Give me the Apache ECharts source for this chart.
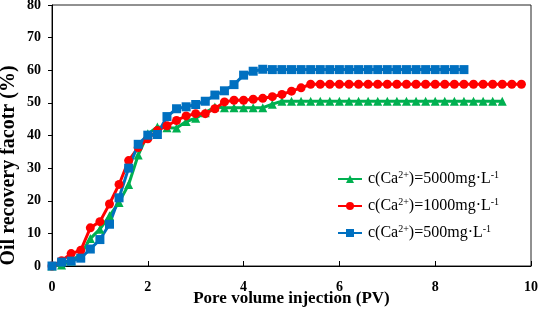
<!DOCTYPE html>
<html>
<head>
<meta charset="utf-8">
<script src="https://cdn.jsdelivr.net/npm/echarts@6/dist/echarts.min.js"></script>
<style>
html,body{margin:0;padding:0;background:#fff;}
#chart{width:538px;height:309px;}
</style>
</head>
<body>
<div id="chart"></div>
<script>
// 注入孔隙体积 (PV)
var pv = [0, 0.2, 0.4, 0.6, 0.8, 1.0, 1.2, 1.4, 1.6, 1.8,
	2.0, 2.2, 2.4, 2.6, 2.8, 3.0, 3.2, 3.4, 3.6, 3.8,
	4.0, 4.2, 4.4, 4.6, 4.8, 5.0, 5.2, 5.4, 5.6, 5.8,
	6.0, 6.2, 6.4, 6.6, 6.8, 7.0, 7.2, 7.4, 7.6, 7.8,
	8.0, 8.2, 8.4, 8.6, 8.8, 9.0, 9.2, 9.4, 9.6, 9.8];

// 5000 mg/L
var rec5000 = [0, 0.3, 1.5, 3.5, 8.4, 11.3, 15.4, 19.5, 25, 34,
	40.5, 42.6, 42.4, 42.3, 44.3, 45.3, 47, 48.7, 48.5, 48.5,
	48.5, 48.5, 48.5, 49.6, 50.5, 50.5, 50.5, 50.5, 50.5, 50.5,
	50.5, 50.5, 50.5, 50.5, 50.5, 50.5, 50.5, 50.5, 50.5, 50.5,
	50.5, 50.5, 50.5, 50.5, 50.5, 50.5, 50.5, 50.5];
// 1000 mg/L
var rec1000 = [0, 1.6, 3.8, 4.8, 11.7, 13.6, 19, 25, 32.3, 36.3,
	39, 41.5, 43, 44.6, 46, 46.7, 46.7, 48.2, 50.3, 50.8,
	50.8, 51.1, 51.4, 51.9, 52.6, 53.6, 54.6, 55.7, 55.7, 55.7,
	55.7, 55.7, 55.7, 55.7, 55.7, 55.7, 55.7, 55.7, 55.7, 55.7,
	55.7, 55.7, 55.7, 55.7, 55.7, 55.7, 55.7, 55.7, 55.7, 55.7];
// 500 mg/L
var rec500 = [0, 1.2, 1.5, 2.4, 5.2, 8.1, 12.8, 20.9, 30, 37.3,
	40.1, 40.3, 45.8, 48.2, 48.8, 49.5, 50.5, 52.4, 53.7, 55.6,
	58.5, 59.7, 60.3, 60.2, 60.2, 60.2, 60.2, 60.2, 60.2, 60.2,
	60.2, 60.2, 60.2, 60.2, 60.2, 60.2, 60.2, 60.2, 60.2, 60.2,
	60.2, 60.2, 60.2, 60.2];

var seriesNames = ['5000', '1000', '500'];

function pairs(ys) {
	var out = [];
	for (var i = 0; i < ys.length; i++) {
		out.push([pv[i], ys[i]]);
	}
	return out;
}

var FONT = '"Liberation Serif", "Times New Roman", serif';

function mkSeries(name, ys, color, symbol) {
	return {
		name: name,
		type: 'line',
		data: pairs(ys),
		symbol: symbol,
		symbolSize: 9,
		showSymbol: true,
		lineStyle: { color: color, width: 3 },
		itemStyle: { color: color },
		animation: false
	};
}

var myChart = echarts.init(document.getElementById('chart'));
myChart.setOption({
	animation: false,
	grid: {
		left: 52, right: 7, top: 5, bottom: 43,
		outerBoundsMode: 'none',
		containLabel: false,
		show: true, borderColor: '#222', borderWidth: 1
	},
	legend: {
		orient: 'vertical',
		left: 332, top: 165,
		itemWidth: 24, itemHeight: 10, itemGap: 9,
		data: seriesNames,
		formatter: function(n) {
			return '{f|c(Ca}{s|2+}{a|)=' + n + 'mg·L}{s|-1}';
		},
		textStyle: {
			fontFamily: FONT,
			color: '#000',
			rich: {
				f: { fontFamily: FONT, fontSize: 16, color: '#000', lineHeight: 18, padding: [0, 0, 0, 1] },
				a: { fontFamily: FONT, fontSize: 16, color: '#000', lineHeight: 18 },
				s: { fontFamily: FONT, fontSize: 10, color: '#000', verticalAlign: 'top', lineHeight: 10, padding: [0, 0, 8, 0] }
			}
		}
	},
	xAxis: {
		type: 'value',
		min: 0, max: 10, interval: 2,
		name: 'Pore volume injection (PV)',
		nameLocation: 'middle',
		nameGap: 24,
		nameMoveOverlap: false,
		nameTextStyle: { fontFamily: FONT, fontWeight: 'bold', fontSize: 17, color: '#000' },
		axisLine: { show: true, lineStyle: { color: '#000', width: 1 } },
		axisTick: { show: true, inside: true, length: 5, lineStyle: { color: '#000' } },
		axisLabel: { fontFamily: FONT, fontWeight: 'bold', fontSize: 14, color: '#000', margin: 14, showMaxLabel: true },
		splitLine: { show: false }
	},
	yAxis: {
		type: 'value',
		min: 0, max: 80, interval: 10,
		name: 'Oil recovery facotr (%)',
		nameLocation: 'middle',
		nameGap: 33,
		nameMoveOverlap: false,
		nameRotate: 90,
		nameTextStyle: { fontFamily: FONT, fontWeight: 'bold', fontSize: 20, color: '#000', padding: [0, 60, 0, 0] },
		axisLine: { show: true, lineStyle: { color: '#000', width: 1 } },
		axisTick: { show: true, inside: false, length: 4, lineStyle: { color: '#000' } },
		axisLabel: { fontFamily: FONT, fontWeight: 'bold', fontSize: 14, color: '#000', margin: 11 },
		splitLine: { show: false }
	},
	series: [
		mkSeries('5000', rec5000, '#00b050', 'triangle'),
		mkSeries('1000', rec1000, '#ff0000', 'circle'),
		mkSeries('500', rec500, '#0070c0', 'rect')
	]
});
</script>
</body>
</html>
